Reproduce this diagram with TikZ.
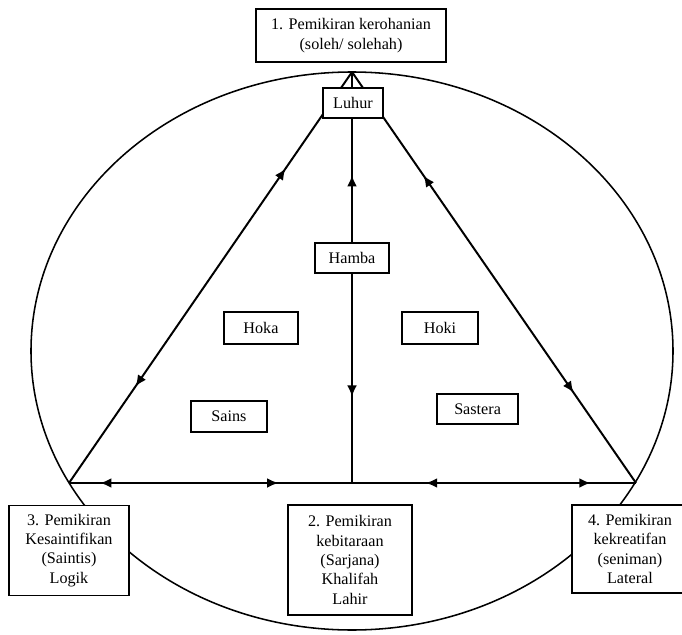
\documentclass[tikz,border=0pt]{standalone}
\usepackage{fontspec}
\setmainfont{Liberation Serif}
\usetikzlibrary{arrows.meta, decorations.markings}

\tikzset{
  thinkbox/.style 2 args={rectangle, draw=black, fill=white, line width=1.1pt, align=center, minimum width=#1, minimum height=#2, inner sep=1pt, font=\fontsize{11.5}{13.8}\selectfont},
  ringline/.style={draw=black, line width=1.1pt},
  linkline/.style={draw=black, line width=1.4pt},
  twoway/.style 2 args={linkline, postaction={decorate}, decoration={markings,
      mark=at position #1 with {\arrowreversed{Latex[length=8pt,width=7pt]}},
      mark=at position #2 with {\arrow{Latex[length=8pt,width=7pt]}}}},
}

\begin{document}
\begin{tikzpicture}
\useasboundingbox (0,0) rectangle (17.05,-15.875);

% Outer ellipse
\draw[ringline] (8.8,-8.775) ellipse [x radius=8.025, y radius=6.975];

% Triangle corners
\coordinate (apex) at (8.8,-1.8);
\coordinate (leftcorner) at (1.725,-12.075);
\coordinate (rightcorner) at (15.9,-12.075);
\coordinate (basemid) at (8.8,-12.075);

% Triangle sides and middle line
\draw[twoway={0.235}{0.765}] (leftcorner) -- (apex);
\draw[twoway={0.22}{0.748}] (rightcorner) -- (apex);
\draw[twoway={0.21}{0.749}] (basemid) -- (apex);
\draw[twoway={0.26}{0.89}] (basemid) -- (leftcorner);
\draw[twoway={0.26}{0.84}] (basemid) -- (rightcorner);

% Corner boxes
\node[thinkbox={4.75cm}{1.325cm}] (spiritual) at (8.775,-0.8875) {1. Pemikiran kerohanian\\(soleh/ solehah)};
\node[thinkbox={3cm}{2.25cm}] (scientific) at (1.725,-13.76) {3. Pemikiran\\Kesaintifikan\\(Saintis)\\Logik};
\node[thinkbox={3.1cm}{2.75cm}] (inherited) at (8.75,-14.0) {2. Pemikiran\\kebitaraan\\(Sarjana)\\Khalifah\\Lahir};
\node[thinkbox={2.9cm}{2.2cm}] (creative) at (15.75,-13.725) {4. Pemikiran\\kekreatifan\\(seniman)\\Lateral};

% Inner boxes
\node[thinkbox={1.5cm}{0.75cm}] (luhur) at (8.825,-2.575) {Luhur};
\node[thinkbox={1.85cm}{0.75cm}] (hamba) at (8.8,-6.45) {Hamba};
\node[thinkbox={1.85cm}{0.8cm}] (hoka) at (6.525,-8.2) {Hoka};
\node[thinkbox={1.9cm}{0.8cm}] (hoki) at (11.0,-8.2) {Hoki};
\node[thinkbox={1.9cm}{0.78cm}] (sains) at (5.725,-10.41) {Sains};
\node[thinkbox={2.025cm}{0.75cm}] (sastera) at (11.94,-10.225) {Sastera};
\end{tikzpicture}
\end{document}
